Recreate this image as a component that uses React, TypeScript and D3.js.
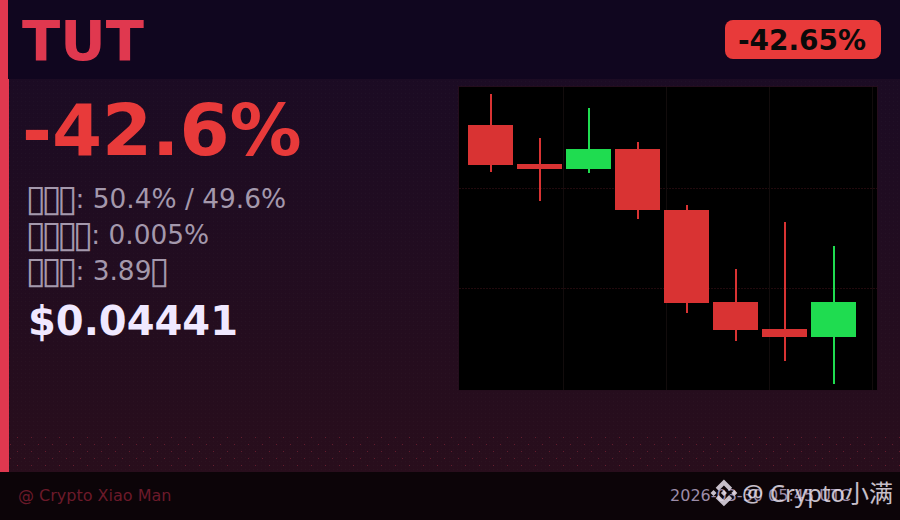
import React, { useEffect } from "react";
import * as d3 from "d3";

const W = 900;
const H = 520;

// Hollow box standing in for the reference's missing-glyph boxes; those characters are not legible in it.
const TOFU = "\u25AF";

const symbol = "TUT";
const changeBadge = "-42.65%";
const changeBig = "-42.6%";
const statLines = [
  { boxes: 3, rest: ": 50.4% / 49.6%", tail: 0 },
  { boxes: 4, rest: ": 0.005%", tail: 0 },
  { boxes: 3, rest: ": 3.89", tail: 1 },
];
const price = "$0.04441";
const footerLeft = "@ Crypto Xiao Man";
const footerDate = "2026-03-30 05:45 UTC";
const watermark = "@ Crypto小满";

const opens = [0.07743, 0.07015, 0.06922, 0.07295, 0.06157, 0.04441, 0.03937, 0.03788];
const closes = [0.06997, 0.06922, 0.07295, 0.06157, 0.04422, 0.03919, 0.03788, 0.04441];
const highs = [0.08321, 0.075, 0.0806, 0.07426, 0.06251, 0.05057, 0.05933, 0.05486];
const lows = [0.06866, 0.06325, 0.06847, 0.05989, 0.04236, 0.03713, 0.0334, 0.02911];
const priceGrid = [0.06558, 0.04693];
const timeGrid = [1.48, 3.6, 5.7, 7.8];

const UP = "#1fdc50";
const DOWN = "#d93333";
const FONT = "'DejaVu Sans', sans-serif";
const STAT = "#a498ac";
const BOX_ADV = 15.8;

const plot = { left: 459, right: 877, top: 87, bottom: 390 };

const xScale = d3.scaleLinear().domain([0, 7]).range([490.5, 833.5]);
const yScale = d3.scaleLinear().domain([0.02799, 0.08453]).range([plot.bottom, plot.top]);
const bodyW = 45;
const wickW = 2;

const BINANCE =
  "M16.624 13.9202l2.7175 2.7154-7.353 7.353-7.353-7.352 2.7175-2.7164 4.6355 4.6595 4.6356-4.6595zm4.6366-4.6366L24 12l-2.7154 2.7164L18.5682 12l2.6924-2.7164zm-9.272.001l2.7163 2.6914-2.7164 2.7174v-.001L9.2721 12l2.7164-2.7154zm-9.2722-.001L5.4088 12l-2.6914 2.6924L0 12l2.7164-2.7164zM11.9885.0115l7.353 7.329-2.7174 2.7154-4.6356-4.6356-4.6355 4.6595-2.7174-2.7154 7.353-7.353z";

function Boxes({ n, x, y }: { n: number; x: number; y: number }) {
  const xs = d3.range(n).map((k) => x + k * BOX_ADV + BOX_ADV / 2).join(" ");
  return (
    <text x={xs} y={y + 3} fontSize={37} fill={STAT} textAnchor="middle">
      {TOFU.repeat(n)}
    </text>
  );
}

function StatLine({ line, y }: { line: (typeof statLines)[number]; y: number }) {
  const restX = 28 + line.boxes * BOX_ADV;
  const ref = React.useRef<SVGTextElement>(null);
  const [tailX, setTailX] = React.useState(restX);
  useEffect(() => {
    if (ref.current) setTailX(restX + ref.current.getComputedTextLength());
  }, [restX]);
  return (
    <>
      <Boxes n={line.boxes} x={28} y={y} />
      <text ref={ref} x={restX} y={y} fontSize={26.4} fill={STAT}>{line.rest}</text>
      {line.tail > 0 && <Boxes n={line.tail} x={tailX} y={y} />}
    </>
  );
}

export default function App() {
  useEffect(() => {
    document.body.style.margin = "0";
    document.body.style.background = "#0c0408";
  }, []);

  return (
    <svg width={W} height={H} viewBox={`0 0 ${W} ${H}`} style={{ display: "block", fontFamily: FONT }}>
      <defs>
        <linearGradient id="bg" x1="0" y1="0" x2="0" y2="1">
          <stop offset="0" stopColor="#190b25" />
          <stop offset="1" stopColor="#2a0e1b" />
        </linearGradient>
        <pattern id="fine" width="4" height="4" patternUnits="userSpaceOnUse">
          <rect x="1" y="1" width="1" height="1" fill="#ffffff" opacity="0.02" />
        </pattern>
        <pattern id="dots" width="14" height="14" patternUnits="userSpaceOnUse">
          <rect x="3" y="3" width="1" height="1" fill="#e0384f" opacity="0.32" />
          <rect x="10" y="10" width="1" height="1" fill="#e0384f" opacity="0.32" />
        </pattern>
      </defs>

      <rect x={0} y={0} width={W} height={H} fill="url(#bg)" />
      <rect x={0} y={0} width={W} height={472} fill="url(#fine)" />
      <rect x={9} y={434} width={W - 9} height={38} fill="url(#dots)" />

      {/* header */}
      <rect x={0} y={0} width={W} height={79} fill="#10061f" />
      <rect x={0} y={0} width={8} height={79} fill="#e0384f" />
      <rect x={0} y={79} width={9} height={393} fill="#e0384f" />
      <text x={22} y={60} fontSize={56} fontWeight={700} fill="#e0384f">{symbol}</text>
      <rect x={725} y={20} width={156} height={39} rx={8} fill="#e83a3a" />
      <text x={802} y={50} fontSize={28} fontWeight={700} fill="#0a0a0a" textAnchor="middle">{changeBadge}</text>

      {/* left stats */}
      <text x={22} y={155} fontSize={72} fontWeight={700} fill="#e83a3a">{changeBig}</text>
      {statLines.map((line, i) => (
        <StatLine key={i} line={line} y={208 + i * 36} />
      ))}
      <text x={28} y={335} fontSize={40} fontWeight={700} fill="#f0e8ff">{price}</text>

      {/* candle chart */}
      <rect x={plot.left - 1} y={plot.top - 1} width={plot.right - plot.left + 2} height={plot.bottom - plot.top + 2} fill="#240d1c" />
      <rect x={plot.left} y={plot.top} width={plot.right - plot.left} height={plot.bottom - plot.top} fill="#000000" />
      {priceGrid.map((p) => (
        <line key={p} x1={plot.left} x2={plot.right} y1={Math.floor(yScale(p)) + 0.5} y2={Math.floor(yScale(p)) + 0.5}
          stroke="#220a0e" strokeWidth={1} strokeDasharray="2 1" />
      ))}
      {timeGrid.map((t) => (
        <line key={t} x1={Math.floor(xScale(t)) + 0.5} x2={Math.floor(xScale(t)) + 0.5} y1={plot.top} y2={plot.bottom}
          stroke="#120c0c" strokeWidth={1} />
      ))}
      {opens.map((o, i) => {
        const c = closes[i];
        const color = c >= o ? UP : DOWN;
        const cx = xScale(i);
        const top = yScale(Math.max(o, c));
        const bottom = yScale(Math.min(o, c));
        return (
          <g key={i}>
            <rect x={cx - wickW / 2 + 0.5} y={yScale(highs[i])} width={wickW} height={yScale(lows[i]) - yScale(highs[i])} fill={color} shapeRendering="crispEdges" />
            <rect x={cx - bodyW / 2} y={top} width={bodyW} height={bottom - top} fill={color} shapeRendering="crispEdges" />
          </g>
        );
      })}

      {/* footer */}
      <rect x={0} y={472} width={W} height={48} fill="#0c0408" />
      <text x={18} y={501} fontSize={16} fill="#6b1a2a">{footerLeft}</text>
      <text x={851} y={501} fontSize={16} fill="#9c8ca8" textAnchor="end">{footerDate}</text>

      {/* watermark */}
      <g opacity={0.85}>
        <path d={BINANCE} transform="translate(710.5 479.5) scale(1.12)" fill="#e8e0ec" />
        <text x={742} y={502} fontSize={24} fill="#e8e0ec" fontFamily="'Noto Sans', 'Noto Sans CJK SC', sans-serif">{watermark}</text>
      </g>
    </svg>
  );
}
